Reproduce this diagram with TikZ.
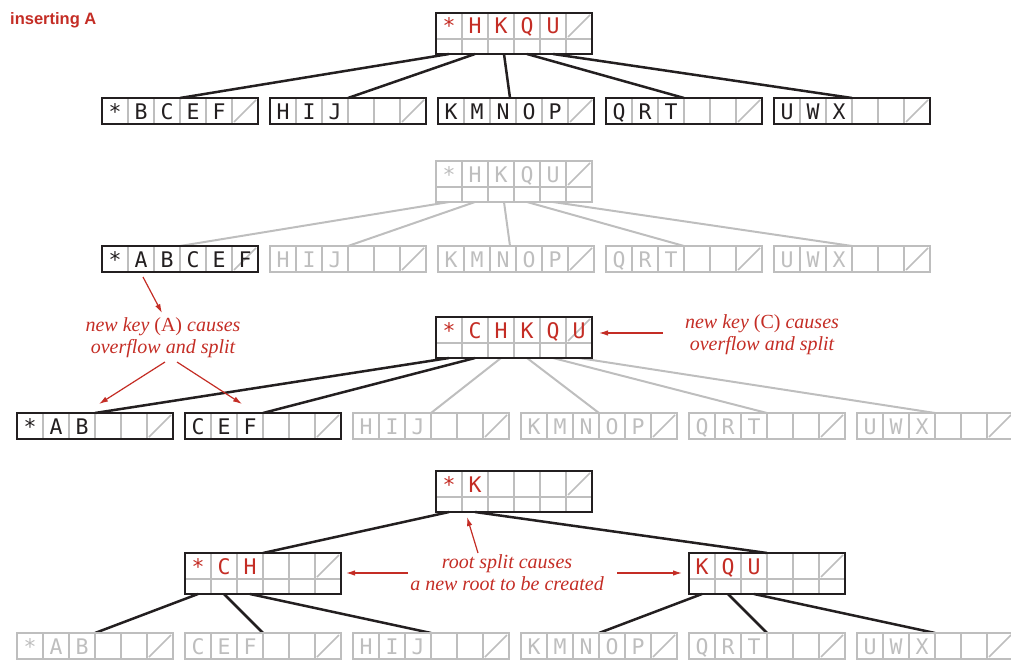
\documentclass[tikz,border=0pt]{standalone}
\usepackage{fontspec}
\setmainfont{Liberation Serif}
\newfontfamily\keyfont{DejaVu Sans Mono}
\newfontfamily\titlefont{Liberation Sans}
\usetikzlibrary{calc,arrows.meta,backgrounds}
\definecolor{myred}{RGB}{196,45,37}
\definecolor{mygray}{RGB}{190,190,190}
\definecolor{myblack}{RGB}{35,31,32}

\tikzset{
  gridline/.style={draw=mygray, line width=1.5pt},
  keytext/.style={font=\keyfont\fontsize{21.5}{21.5}\selectfont, inner sep=0pt, anchor=base},
  blackconn/.style={draw=myblack, line width=2.5pt},
  grayconn/.style={draw=mygray, line width=2pt},
  redarrow/.style={draw=myred, line width=1.2pt, -{Latex[length=9pt,width=5.5pt]}},
  note/.style={font=\itshape\fontsize{20}{22}\selectfont, text=myred, align=center, inner sep=0pt},
  holder/.style={inner sep=0pt, outer sep=0pt, anchor=north west, minimum width=156pt},
}

% internal node: name, position, keys, border colour, text colour
\newcommand\mkinode[5]{%
  \node[holder, minimum height=41pt] (#1) at (#2) {};
  \foreach \i in {1,...,5}
    \draw[gridline] ($(#1.north west)+(26*\i,0)$) -- ($(#1.south west)+(26*\i,0)$);
  \draw[gridline] ($(#1.north west)+(0,26)$) -- ($(#1.north east)+(0,26)$);
  \draw[gridline] ($(#1.north west)+(132,24)$) -- ($(#1.north west)+(154,2)$);
  \draw[line width=2pt, draw=#4] (#1.north west) rectangle (#1.south east);
  \foreach \k [count=\j] in {#3}
    \node[keytext, text=#5] at ($(#1.north west)+(26*\j-13,21)$) {\k};
}
% leaf node: name, position, keys, border colour, text colour
\newcommand\mkleaf[5]{%
  \node[holder, minimum height=26pt] (#1) at (#2) {};
  \foreach \i in {1,...,5}
    \draw[gridline] ($(#1.north west)+(26*\i,0)$) -- ($(#1.south west)+(26*\i,0)$);
  \draw[gridline] ($(#1.north west)+(132,24)$) -- ($(#1.north west)+(154,2)$);
  \draw[line width=2pt, draw=#4] (#1.north west) rectangle (#1.south east);
  \foreach \k [count=\j] in {#3}
    \node[keytext, text=#5] at ($(#1.north west)+(26*\j-13,21)$) {\k};
}
\newcommand\conn[4]{\draw[#1] ($(#2.south west)+(26*#3-13,0)$) -- (#4.north);}

\begin{document}
\begin{tikzpicture}[x=1pt, y=-1pt]
\useasboundingbox (0,0) rectangle (1011,661);

\node[anchor=base west, inner sep=0pt, font=\titlefont\bfseries\fontsize{16.5}{16.5}\selectfont, text=myred] (title) at (10,25) {inserting A};

% ---------- row 1 ----------
\mkinode{r1}{436,13}{*,H,K,Q,U}{myblack}{myred}
\mkleaf{l1a}{102,98}{*,B,C,E,F}{myblack}{myblack}
\mkleaf{l1b}{270,98}{H,I,J}{myblack}{myblack}
\mkleaf{l1c}{438,98}{K,M,N,O,P}{myblack}{myblack}
\mkleaf{l1d}{606,98}{Q,R,T}{myblack}{myblack}
\mkleaf{l1e}{774,98}{U,W,X}{myblack}{myblack}

% ---------- row 2 ----------
\mkinode{r2}{436,161}{*,H,K,Q,U}{mygray}{mygray}
\mkleaf{l2a}{102,246}{*,A,B,C,E,F}{myblack}{myblack}
\mkleaf{l2b}{270,246}{H,I,J}{mygray}{mygray}
\mkleaf{l2c}{438,246}{K,M,N,O,P}{mygray}{mygray}
\mkleaf{l2d}{606,246}{Q,R,T}{mygray}{mygray}
\mkleaf{l2e}{774,246}{U,W,X}{mygray}{mygray}

% ---------- row 3 ----------
\mkinode{r3}{436,317}{*,C,H,K,Q,U}{myblack}{myred}
\mkleaf{l3a}{17,413}{*,A,B}{myblack}{myblack}
\mkleaf{l3b}{185,413}{C,E,F}{myblack}{myblack}
\mkleaf{l3c}{353,413}{H,I,J}{mygray}{mygray}
\mkleaf{l3d}{521,413}{K,M,N,O,P}{mygray}{mygray}
\mkleaf{l3e}{689,413}{Q,R,T}{mygray}{mygray}
\mkleaf{l3f}{857,413}{U,W,X}{mygray}{mygray}

% ---------- row 4 ----------
\mkinode{r4}{436,471}{*,K}{myblack}{myred}
\mkinode{m1}{185,553}{*,C,H}{myblack}{myred}
\mkinode{m2}{689,553}{K,Q,U}{myblack}{myred}
\mkleaf{l4a}{17,633}{*,A,B}{mygray}{mygray}
\mkleaf{l4b}{185,633}{C,E,F}{mygray}{mygray}
\mkleaf{l4c}{353,633}{H,I,J}{mygray}{mygray}
\mkleaf{l4d}{521,633}{K,M,N,O,P}{mygray}{mygray}
\mkleaf{l4e}{689,633}{Q,R,T}{mygray}{mygray}
\mkleaf{l4f}{857,633}{U,W,X}{mygray}{mygray}

% ---------- connectors ----------
\begin{scope}[on background layer]
  \conn{blackconn}{r1}{1}{l1a}
  \conn{blackconn}{r1}{2}{l1b}
  \draw[blackconn] ($(r1.south west)+(68,0)$) -- ($(l1c.north)+(-6,0)$);
  \conn{blackconn}{r1}{4}{l1d}
  \conn{blackconn}{r1}{5}{l1e}

  \conn{grayconn}{r2}{1}{l2a}
  \conn{grayconn}{r2}{2}{l2b}
  \draw[grayconn] ($(r2.south west)+(68,0)$) -- ($(l2c.north)+(-6,0)$);
  \conn{grayconn}{r2}{4}{l2d}
  \conn{grayconn}{r2}{5}{l2e}

  \conn{blackconn}{r3}{1}{l3a}
  \conn{blackconn}{r3}{2}{l3b}
  \conn{grayconn}{r3}{3}{l3c}
  \conn{grayconn}{r3}{4}{l3d}
  \conn{grayconn}{r3}{5}{l3e}
  \conn{grayconn}{r3}{6}{l3f}

  \conn{blackconn}{r4}{1}{m1}
  \conn{blackconn}{r4}{2}{m2}
  \conn{blackconn}{m1}{1}{l4a}
  \conn{blackconn}{m1}{2}{l4b}
  \conn{blackconn}{m1}{3}{l4c}
  \conn{blackconn}{m2}{1}{l4d}
  \conn{blackconn}{m2}{2}{l4e}
  \conn{blackconn}{m2}{3}{l4f}
\end{scope}

% ---------- notes ----------
\node[note] (t1) at (163,338) {new key \textup{(A)} causes\\overflow and split};
\node[note] (t2) at (762,335) {new key \textup{(C)} causes\\overflow and split};
\node[note] (t3) at (507,573) {root split causes\\a new root to be created};

\coordinate (a1e) at (162,313);
\coordinate (a2s) at (165,362);
\coordinate (a3s) at (177,362);
\coordinate (acs) at (663,333);
\coordinate (ar1) at (478,553);
\coordinate (ar2) at (408,573);
\coordinate (ar3) at (617,573);

\draw[redarrow] ($(l2a.south west)+(41,5)$) -- (a1e);
\draw[redarrow] (a2s) -- ($(l3a.north)+(4,-9)$);
\draw[redarrow] (a3s) -- ($(l3b.north west)+(57,-9)$);
\draw[redarrow] (acs) -- ($(r3.north east)+(7,16)$);
\draw[redarrow] (ar1) -- ($(r4.south west)+(31,5)$);
\draw[redarrow] (ar2) -- ($(m1.north east)+(5,20)$);
\draw[redarrow] (ar3) -- ($(m2.north west)+(-7,20)$);
\end{tikzpicture}
\end{document}
